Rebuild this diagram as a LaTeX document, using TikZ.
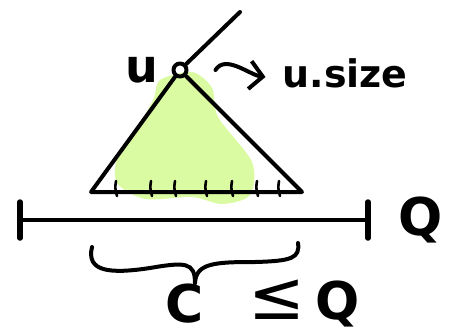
\documentclass[tikz,border=0pt]{standalone}
\usepackage{fontspec}
\setmainfont{DejaVu Sans}
\usetikzlibrary{arrows.meta}
\usetikzlibrary{positioning}
\definecolor{blobgreen}{RGB}{218,251,162}
\tikzset{
  ink/.style={line width=4pt, line cap=round, line join=round},
  tick/.style={line width=2.6pt, line cap=round},
  hand/.style={font=\fontsize{38}{38}\selectfont\bfseries, inner sep=0pt},
  big/.style={font=\fontsize{52}{52}\selectfont\bfseries, inner sep=0pt}
}

\begin{document}
\begin{tikzpicture}[x=1pt,y=-1pt]
  \useasboundingbox (0,0) rectangle (449,335);
  % subtree shading
  \fill[blobgreen] plot[smooth cycle] coordinates {(192,72) (212,88) (218,117)
    (252,162) (250,195) (222,204) (192,197) (145,199) (117,183) (117,158)
    (132,138) (153,100) (160,80)};
  \node (u) [circle, draw, ink, minimum size=13pt, inner sep=0pt] at (180,70) {};
  \node (ulabel) [hand, font=\fontsize{46}{46}\selectfont\bfseries, left=13pt of u] {u};
  \node (usize) [hand, right=94pt of u, yshift=-3pt] {u.size};
  \coordinate (parent) at (240,12);
  \coordinate (bl) at (91,192);
  \coordinate (br) at (302,192);
  \draw[ink] (u) -- (parent);
  \draw[ink] (u) -- (bl) -- (br) -- (u);
  \draw[ink, -{Straight Barb[length=13pt,width=28pt]}]
    ([xshift=27pt]u.east) .. controls +(10,-16) and +(-16,-2) .. ([xshift=-17pt,yshift=-4pt]usize.west);
  \foreach \x in {116,151,175,206,232,257,279}
    \draw[tick] (\x,181) .. controls (\x-1,188) .. (\x+1,196);
  % the range Q
  \coordinate (ql) at (20,220);
  \coordinate (qr) at (368,220);
  \draw[ink] (ql) -- (qr);
  \draw[ink, line width=5.5pt] ([yshift=18pt]ql) -- ([yshift=-18pt]ql);
  \draw[ink, line width=5.5pt] ([yshift=18pt]qr) -- ([yshift=-18pt]qr);
  \node (Q) [big, right=30pt of qr] {Q};
  % brace
  \draw[ink] (92,247) .. controls (86,272) and (110,274) .. (150,268)
    .. controls (185,262) and (195,262) .. (195,283);
  \draw[ink] (195,283) .. controls (196,263) and (215,262) .. (255,262)
    .. controls (292,261) and (300,258) .. (298,243);
  \node (C) [big] at (185,304) {C};
  \node (leq) [hand, font=\fontsize{68}{68}\selectfont, right=44pt of C, yshift=4pt] {≤};
  \node (Qb) [big, right=10pt of leq, yshift=-4pt] {Q};
\end{tikzpicture}
\end{document}
